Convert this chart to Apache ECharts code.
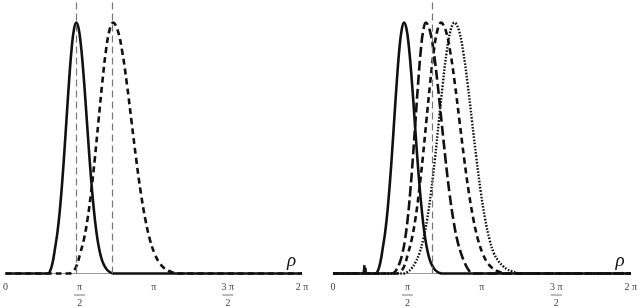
<!DOCTYPE html>
<html>
<head>
<meta charset="utf-8">
<script src="https://cdn.jsdelivr.net/npm/echarts@6/dist/echarts.min.js"></script>
<style>html,body{margin:0;padding:0;background:#fff}#c{width:640px;height:308px}</style>
</head>
<body>
<div id="c"></div>
<script>
const TWO_PI = 2 * Math.PI;
const tickLabels = ['0', 'π/2', 'π', '3 π/2', '2 π'];
// solid curve (both panels)
const solidRho = [0, 0.85, 0.90, 0.95, 1.00, 1.05, 1.10, 1.15, 1.20, 1.25, 1.30, 1.35, 1.40, 1.45, 1.50, 1.55, 1.60, 1.65, 1.70, 1.75, 1.80, 1.85, 1.90, 1.95, 2.00, 2.05, 2.10, 2.15, 2.20, 2.25, 2.30, 2.35, TWO_PI];
const solidVal = [0, 0, 0, 0.012, 0.045, 0.101, 0.163, 0.249, 0.360, 0.492, 0.635, 0.775, 0.893, 0.972, 1, 0.976, 0.906, 0.801, 0.674, 0.539, 0.411, 0.298, 0.206, 0.135, 0.085, 0.050, 0.029, 0.015, 0.007, 0.002, 0, 0, 0];
// medium dashed curve (both panels)
const medRho = [0, 1.20, 1.273, 1.350, 1.428, 1.505, 1.583, 1.660, 1.738, 1.815, 1.893, 1.970, 2.048, 2.125, 2.203, 2.280, 2.378, 2.475, 2.573, 2.670, 2.768, 2.865, 2.963, 3.060, 3.158, 3.255, 3.353, 3.450, 3.548, 3.645, 3.75, TWO_PI];
const medVal = [0, 0, 0, 0, 0.008, 0.030, 0.080, 0.135, 0.216, 0.325, 0.458, 0.607, 0.755, 0.883, 0.969, 1, 0.969, 0.883, 0.755, 0.607, 0.458, 0.325, 0.216, 0.135, 0.080, 0.044, 0.023, 0.011, 0.004, 0, 0, 0];
// long dashed curve (right panel)
const longRho = [0, 0.62, 0.672, 0.72, 1.245, 1.300, 1.355, 1.410, 1.465, 1.520, 1.575, 1.630, 1.685, 1.740, 1.795, 1.850, 1.905, 1.960, 2.043, 2.125, 2.208, 2.290, 2.373, 2.455, 2.538, 2.620, 2.703, 2.785, 2.868, 2.950, 3.05, TWO_PI];
const longVal = [0, 0, 0.035, 0, 0, 0.005, 0.020, 0.044, 0.080, 0.135, 0.216, 0.325, 0.458, 0.607, 0.755, 0.883, 0.969, 1, 0.969, 0.883, 0.755, 0.607, 0.458, 0.325, 0.216, 0.135, 0.080, 0.040, 0.012, 0, 0, 0];
// dotted curve (right panel)
const dotRho = [0, 1.40, 1.492, 1.574, 1.657, 1.739, 1.822, 1.904, 1.987, 2.069, 2.152, 2.234, 2.317, 2.399, 2.482, 2.564, 2.657, 2.749, 2.842, 2.934, 3.027, 3.119, 3.212, 3.304, 3.397, 3.489, 3.582, 3.674, 3.767, 3.859, 3.952, 4.05, TWO_PI];
const dotVal = [0, 0, 0, 0.006, 0.020, 0.044, 0.080, 0.135, 0.216, 0.325, 0.458, 0.607, 0.755, 0.883, 0.969, 1, 0.969, 0.883, 0.755, 0.607, 0.458, 0.325, 0.216, 0.135, 0.080, 0.050, 0.030, 0.017, 0.009, 0.004, 0, 0, 0];
// vertical reference lines
const leftGuides = [1.49, 2.26];
const rightGuides = [2.10];

const pairs = (xs, ys) => xs.map((x, i) => [x, ys[i]]);

function richLabel(t) {
  const parts = t.split('/');
  if (parts.length === 1) return '{n|' + t + '}';
  return '{n|' + parts[0] + '}\n{b|}\n{d|' + parts[1] + '}';
}

function xAxis(gi) {
  return {
    type: 'value', gridIndex: gi, min: 0, max: TWO_PI, interval: Math.PI / 2,
    splitLine: { show: false },
    axisTick: { show: false },
    axisLine: { lineStyle: { color: '#999', width: 1 } },
    name: 'ρ', nameLocation: 'end', nameGap: -6,
    nameTextStyle: { fontFamily: 'Liberation Serif', fontStyle: 'italic', fontSize: 19, color: '#111', align: 'right', verticalAlign: 'bottom', padding: [0, 0, 3, 0] },
    axisLabel: {
      margin: 8, showMinLabel: true, showMaxLabel: true,
      formatter: (v) => richLabel(tickLabels[Math.round(v / (Math.PI / 2))] || ''),
      rich: {
        n: { fontFamily: 'Liberation Serif', fontSize: 10, color: '#444', lineHeight: 11 },
        b: { width: 11, height: 1, backgroundColor: '#777', lineHeight: 5 },
        d: { fontFamily: 'Liberation Serif', fontSize: 10, color: '#444', lineHeight: 11 }
      }
    }
  };
}
function yAxis(gi) {
  return { type: 'value', gridIndex: gi, min: 0, max: 1.09, show: false, splitLine: { show: false } };
}
function curve(gi, data, type, width) {
  return {
    type: 'line', xAxisIndex: gi, yAxisIndex: gi, data: data, smooth: 0.4,
    showSymbol: false, symbol: 'none', clip: false, z: 3,
    lineStyle: { color: '#111', width: width, type: type }
  };
}
function guides(gi, xs) {
  return {
    type: 'line', xAxisIndex: gi, yAxisIndex: gi, data: [], z: 2,
    markLine: {
      silent: true, symbol: 'none', label: { show: false },
      lineStyle: { color: '#777', width: 1.2, type: [7, 4] },
      data: xs.map(x => ({ xAxis: x }))
    }
  };
}

const chart = echarts.init(document.getElementById('c'), null, { renderer: 'canvas' });
chart.setOption({
  animation: false,
  backgroundColor: '#fff',
  grid: [
    { left: 2, width: 300, top: 0, height: 277 },
    { left: 333, width: 299, top: 0, height: 277 }
  ],
  xAxis: [xAxis(0), xAxis(1)],
  yAxis: [yAxis(0), yAxis(1)],
  series: [
    guides(0, leftGuides),
    curve(0, pairs(medRho, medVal), [6, 4], 2.6),
    curve(0, pairs(solidRho, solidVal), 'solid', 2.6),
    guides(1, rightGuides),
    curve(1, pairs(dotRho, dotVal), [1.6, 1.6], 2.4),
    curve(1, pairs(medRho, medVal), [6, 4], 2.6),
    curve(1, pairs(longRho, longVal), [10, 4], 2.6),
    curve(1, pairs(solidRho, solidVal), 'solid', 2.6)
  ]
});
</script>
</body>
</html>
